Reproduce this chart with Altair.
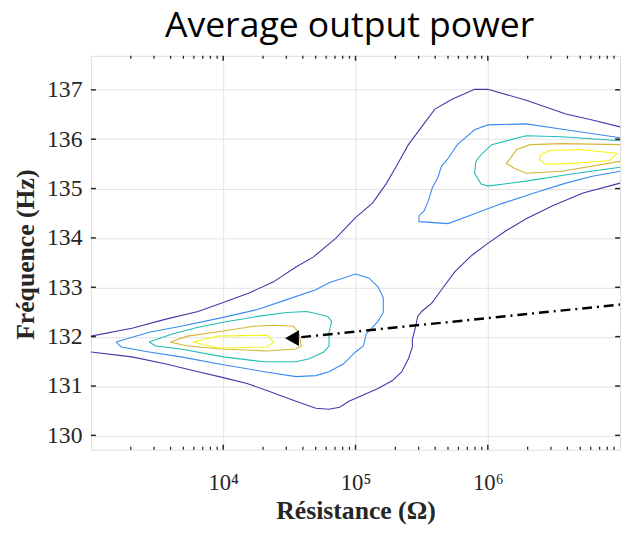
import altair as alt
import pandas as pd
import numpy as np

# ---- contour lines (log10 of resistance, frequency in Hz) ----
purple_upper_logR = [3.00,3.31,3.56,3.81,4.00,4.20,4.38,4.55,4.68,4.85,5.00,5.13,5.23,5.30,5.40,5.50,5.60,5.73,5.90,6.00,6.29,6.59,6.79,7.00]
purple_upper_f = [132.01,132.17,132.35,132.51,132.69,132.89,133.11,133.41,133.61,133.99,134.41,134.71,135.09,135.41,135.89,136.25,136.61,136.81,137.01,137.01,136.79,136.51,136.39,136.25]

purple_lower_logR = [7.00,6.72,6.49,6.29,6.14,6.00,5.88,5.75,5.65,5.58,5.50,5.47,5.45,5.43,5.43,5.40,5.35,5.28,5.17,5.05,4.95,4.88,4.80,4.70,4.55,4.35,4.18,4.00,3.81,3.56,3.31,3.00]
purple_lower_f = [135.11,134.91,134.65,134.39,134.15,133.89,133.65,133.31,132.95,132.69,132.51,132.41,132.15,131.95,131.79,131.55,131.29,131.11,130.95,130.81,130.69,130.57,130.53,130.55,130.69,130.89,131.05,131.17,131.29,131.45,131.59,131.69]

blue_left_logR = [3.19,3.44,3.68,4.00,4.26,4.48,4.70,4.80,5.00,5.10,5.17,5.21,5.21,5.17,5.08,5.06,5.00,4.91,4.80,4.70,4.55,4.31,4.00,3.68,3.44,3.23,3.19]
blue_left_f = [131.89,132.09,132.21,132.39,132.55,132.75,132.95,133.09,133.27,133.19,133.01,132.79,132.49,132.31,132.05,131.81,131.69,131.45,131.29,131.21,131.19,131.29,131.43,131.59,131.69,131.79,131.89]

blue_right_logR = [7.00,6.59,6.29,6.00,5.90,5.77,5.70,5.65,5.62,5.58,5.55,5.52,5.48,5.48,5.70,5.90,6.10,6.35,6.59,6.79,7.00]
blue_right_f = [136.03,136.19,136.31,136.29,136.19,135.89,135.61,135.45,135.21,135.01,134.75,134.55,134.45,134.33,134.29,134.49,134.69,134.91,135.11,135.25,135.35]

teal_left_logR = [3.44,3.61,3.81,4.00,4.26,4.48,4.63,4.70,4.79,4.82,4.80,4.80,4.76,4.65,4.55,4.31,4.00,3.68,3.49,3.44]
teal_left_f = [131.89,132.05,132.19,132.29,132.41,132.49,132.51,132.47,132.41,132.31,132.09,131.81,131.69,131.55,131.49,131.49,131.59,131.75,131.81,131.89]

teal_right_logR = [7.00,6.56,6.29,6.03,5.95,5.91,5.90,5.95,6.00,6.29,6.62,7.00]
teal_right_f = [135.97,136.05,136.07,135.89,135.69,135.55,135.31,135.09,135.05,135.15,135.29,135.43]

gold_left_logR = [3.60,3.73,3.99,4.23,4.38,4.53,4.57,4.59,4.55,4.33,3.99,3.73,3.60]
gold_left_f = [131.89,132.01,132.11,132.21,132.23,132.21,132.09,131.81,131.75,131.71,131.75,131.81,131.89]

yellow_left_logR = [3.77,3.96,4.33,4.38,4.33,3.96,3.77]
yellow_left_f = [131.89,132.01,132.03,131.89,131.79,131.77,131.89]

gold_right_logR = [7.00,6.56,6.32,6.22,6.14,6.20,6.29,6.56,7.00]
gold_right_f = [135.89,135.91,135.89,135.79,135.51,135.41,135.31,135.35,135.55]

yellow_right_logR = [6.40,6.47,6.70,6.98,6.92,6.64,6.44,6.39,6.40]
yellow_right_f = [135.69,135.77,135.79,135.71,135.57,135.51,135.49,135.59,135.69]

# dash-dot trajectory and start marker
traj_logR = [4.59, 7.00]
traj_f = [131.99, 132.65]
marker_logR = [4.52]
marker_f = [131.97]

levels = ["L1", "L2", "L3", "L4", "L5"]
level_colors = ["#4636AA", "#3A8AF2", "#22BDB5", "#D6B534", "#F6F51C"]

x_major = [1e4, 1e5, 1e6]
x_minor = [k * 10.0 ** n for n in range(3, 7) for k in range(2, 10)]
y_major = [130, 131, 132, 133, 134, 135, 136, 137]

segments = [
    ("pu", "L1", purple_upper_logR, purple_upper_f),
    ("pl", "L1", purple_lower_logR, purple_lower_f),
    ("bl", "L2", blue_left_logR, blue_left_f),
    ("br", "L2", blue_right_logR, blue_right_f),
    ("tl", "L3", teal_left_logR, teal_left_f),
    ("tr", "L3", teal_right_logR, teal_right_f),
    ("gl", "L4", gold_left_logR, gold_left_f),
    ("gr", "L4", gold_right_logR, gold_right_f),
    ("yl", "L5", yellow_left_logR, yellow_left_f),
    ("yr", "L5", yellow_right_logR, yellow_right_f),
]
rows = []
for seg, lev, lr, ff in segments:
    for i, (a, b) in enumerate(zip(lr, ff)):
        rows.append({"seg": seg, "level": lev, "R": 10.0 ** a, "f": b, "ord": i})
df = pd.DataFrame(rows)

W, H = 536, 399
xs = alt.Scale(type="log", domain=[1e3, 1e7], nice=False)
ys = alt.Scale(domain=[129.71, 137.69], nice=False, zero=False)

serif = "Liberation Serif"

x_axis = alt.Axis(
    values=x_major,
    labelExpr="'10' + ['⁰','¹','²','³','⁴','⁵','⁶','⁷'][round(log(datum.value)/LN10)]",
    title="Résistance (Ω)", titleFont=serif, titleFontSize=26, titleFontWeight="bold",
    titleColor="#262626", titleX=268, titleY=70, titleBaseline="alphabetic",
    labelFont=serif, labelFontSize=23, labelColor="#262626", labelPadding=22,
    grid=True, gridColor="#e3e3e3", gridWidth=1, ticks=False, domain=False,
)
y_axis = alt.Axis(
    values=y_major,
    title="Fréquence (Hz)", titleFont=serif, titleFontSize=26, titleFontWeight="bold",
    titleColor="#262626", titleX=-58, titleY=201, titleBaseline="alphabetic", titleAngle=-90,
    labelFont=serif, labelFontSize=24, labelColor="#262626", labelPadding=9,
    grid=True, gridColor="#e3e3e3", gridWidth=1, ticks=False, domain=False,
)

contours = alt.Chart(df).mark_line(strokeWidth=1.1, clip=True).encode(
    x=alt.X("R:Q", scale=xs, axis=x_axis),
    y=alt.Y("f:Q", scale=ys, axis=y_axis),
    color=alt.Color("level:N", scale=alt.Scale(domain=levels, range=level_colors), legend=None),
    detail="seg:N",
    order="ord:Q",
)

traj_df = pd.DataFrame({"R": [10.0 ** v for v in traj_logR], "f": traj_f})
traj = alt.Chart(traj_df).mark_line(color="black", strokeWidth=2.5, strokeDash=[10, 5, 2, 5], clip=True).encode(
    x=alt.X("R:Q", scale=xs), y=alt.Y("f:Q", scale=ys)
)
mk_df = pd.DataFrame({"R": [10.0 ** v for v in marker_logR], "f": marker_f})
marker = alt.Chart(mk_df).mark_point(shape="triangle-left", filled=True, color="black", size=260, opacity=1).encode(
    x=alt.X("R:Q", scale=xs), y=alt.Y("f:Q", scale=ys)
)

xmaj_df = pd.DataFrame({"R": x_major})
xmin_df = pd.DataFrame({"R": x_minor})
ymaj_df = pd.DataFrame({"f": y_major})
tick_color = "#262626"
ticks = [
    alt.Chart(xmaj_df).mark_rule(color=tick_color, strokeWidth=1.5).encode(x=alt.X("R:Q", scale=xs), y=alt.value(0), y2=alt.value(5)),
    alt.Chart(xmaj_df).mark_rule(color=tick_color, strokeWidth=1.5).encode(x=alt.X("R:Q", scale=xs), y=alt.value(H), y2=alt.value(H - 5)),
    alt.Chart(xmin_df).mark_rule(color=tick_color, strokeWidth=1.3).encode(x=alt.X("R:Q", scale=xs), y=alt.value(0), y2=alt.value(3)),
    alt.Chart(xmin_df).mark_rule(color=tick_color, strokeWidth=1.3).encode(x=alt.X("R:Q", scale=xs), y=alt.value(H), y2=alt.value(H - 3)),
    alt.Chart(ymaj_df).mark_rule(color=tick_color, strokeWidth=1.5).encode(y=alt.Y("f:Q", scale=ys), x=alt.value(0), x2=alt.value(5)),
    alt.Chart(ymaj_df).mark_rule(color=tick_color, strokeWidth=1.5).encode(y=alt.Y("f:Q", scale=ys), x=alt.value(W), x2=alt.value(W - 5)),
]

chart = alt.layer(contours, traj, marker, *ticks).properties(
    width=W, height=H,
    title=alt.TitleParams("Average output power", font="Open Sans", fontSize=36, fontWeight="normal",
                          color="black", anchor="middle", offset=10, dx=-6),
    autosize=alt.AutoSizeParams(type="none"),
    padding={"left": 84, "top": 45, "right": 7, "bottom": 81},
).configure_view(stroke="#262626", strokeWidth=1.5).configure(background="white")

chart.save("out.html", embed_options={"renderer": "svg", "actions": False})
